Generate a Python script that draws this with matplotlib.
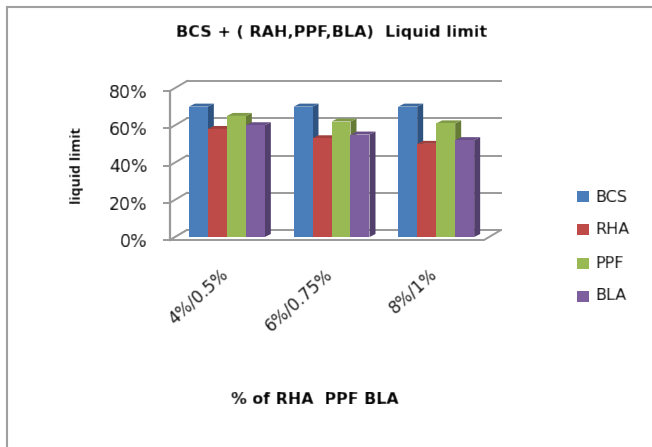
"""
BCS + (RHA, PPF, BLA) liquid limit - bar chart drawn with a fake 3D look
"""

import numpy as np
import matplotlib
matplotlib.use("Agg")
import matplotlib.pyplot as plt
from matplotlib.patches import Polygon, Rectangle
from matplotlib.lines import Line2D

# -----------------------------
# Data
# -----------------------------

categories = ["4%/0.5%", "6%/0.75%", "8%/1%"]
series_names = ["BCS", "RHA", "PPF", "BLA"]
bcs = [70, 70, 70]
rha = [58, 53, 50]
ppf = [65, 62, 61]
bla = [60, 55, 52]
y_ticks = [0, 20, 40, 60, 80]

front_colors = ["#4a7ebb", "#be4b48", "#98b954", "#7d5fa0"]
side_colors = ["#2f5380", "#7f2f2d", "#667c36", "#533f6b"]
top_colors = ["#3d6a9e", "#a03f3c", "#809b46", "#694f87"]

W, H = 652, 447
# front plane of the chart box, in pixels
LEFT, RIGHT, BASE, TOP = 170, 484, 240, 91
# floor depth in data units (17 px across, 10 px up)
DX = 17 / ((RIGHT - LEFT) / 3)
DY = 10 / ((BASE - TOP) / 80)
# bars stand a little behind the front edge
BAR_DX = 6 / ((RIGHT - LEFT) / 3)
BAR_DY = 3 / ((BASE - TOP) / 80)
BAR_W = 0.1815
GROUP_START = 0.18
GRID = "#9a9a9a"
TEXT = "#000000"


def soften(image, dpi):
    """
    Small blur for text, the reference is a scaled-up screenshot.
    """
    out = image.copy()
    for axis in (0, 1):
        out = 0.15 * np.roll(out, 1, axis) + 0.7 * out + 0.15 * np.roll(out, -1, axis)
    return out, 0, 0


def draw_bar(ax, x, value, color_idx, bottom):
    """
    One bar: front face through ax.bar, then the side and top faces.
    """
    top = bottom + value
    ax.bar(x, value, BAR_W, bottom=bottom, align="edge",
           color=front_colors[color_idx], linewidth=0, zorder=4)
    side = [(x + BAR_W, bottom), (x + BAR_W + BAR_DX, bottom + BAR_DY),
            (x + BAR_W + BAR_DX, top + BAR_DY), (x + BAR_W, top)]
    roof = [(x, top), (x + BAR_DX, top + BAR_DY),
            (x + BAR_W + BAR_DX, top + BAR_DY), (x + BAR_W, top)]
    ax.add_patch(Polygon(side, closed=True, fc=side_colors[color_idx], lw=0, zorder=3))
    ax.add_patch(Polygon(roof, closed=True, fc=top_colors[color_idx], lw=0, zorder=3))


def main():
    plt.rcParams["font.family"] = "DejaVu Sans"
    fig = plt.figure(figsize=(W / 100, H / 100), dpi=100)

    ax = fig.add_axes([LEFT / W, 1 - BASE / H, (RIGHT - LEFT) / W, (BASE - TOP) / H])
    ax.set_xlim(0, 3)
    ax.set_ylim(0, 80)
    ax.patch.set_visible(False)
    for name in ["top", "right", "bottom"]:
        ax.spines[name].set_visible(False)
    ax.spines["left"].set_color(GRID)
    ax.spines["left"].set_linewidth(1.6)

    # back wall gridlines and the slanted joins on the left wall
    for t in y_ticks:
        ax.plot([DX, 3 + DX], [t + DY, t + DY], color=GRID, lw=1.4, clip_on=False, zorder=1)
        ax.plot([0, DX], [t, t + DY], color=GRID, lw=1.4, clip_on=False, zorder=1)

    # floor outline
    floor = [(0, 0), (3, 0), (3 + DX, DY), (DX, DY)]
    ax.add_patch(Polygon(floor, closed=True, fc="white", ec=GRID, lw=1.4,
                         clip_on=False, zorder=2))

    # bars
    all_values = [bcs, rha, ppf, bla]
    for i in range(len(categories)):
        for j, values in enumerate(all_values):
            x = i + GROUP_START + j * BAR_W
            draw_bar(ax, x, values[i], j, BAR_DY)

    # axis ticks and labels
    ax.set_yticks(y_ticks)
    ax.set_yticklabels([f"{t}%" for t in y_ticks], fontsize=12.5, color=TEXT)
    ax.tick_params(axis="y", color=GRID, width=1.4, length=5, pad=11)
    ax.set_xticks([i + 0.47 for i in range(3)])
    ax.set_xticklabels(categories, rotation=42, ha="right", rotation_mode="anchor",
                       fontsize=12, color=TEXT)
    ax.tick_params(axis="x", length=0, pad=18)

    # titles
    texts = list(ax.get_xticklabels()) + list(ax.get_yticklabels())
    texts.append(fig.text(332 / W, 1 - 33 / H, "BCS + ( RAH,PPF,BLA)  Liquid limit",
                          fontsize=11.5, fontweight="bold", ha="center", va="center", color=TEXT))
    texts.append(fig.text(315 / W, 1 - 399 / H, "% of RHA  PPF BLA", fontsize=11.4,
                          fontweight="bold", ha="center", va="center", color=TEXT))
    texts.append(fig.text(77 / W, 1 - 166 / H, "liquid limit", fontsize=10.2, fontweight="bold",
                          family="Open Sans", rotation=90, ha="center", va="center", color=TEXT))

    # legend
    legend_y = [197, 230, 263, 296]
    for name, color, y in zip(series_names, front_colors, legend_y):
        fig.patches.append(Rectangle((577 / W, 1 - (y + 5.5) / H), 11.5 / W, 11 / H,
                                     transform=fig.transFigure, fc=color, lw=0))
        texts.append(fig.text(595 / W, 1 - y / H, name, fontsize=11.5, ha="left", va="center",
                              color=TEXT))

    for t in texts:
        t.set_agg_filter(soften)

    # outer frame: top and left only
    fig.add_artist(Line2D([7 / W, 7 / W], [0, 1 - 7 / H], color="#a0a0a0", lw=1.5))
    fig.add_artist(Line2D([7 / W, 1], [1 - 7 / H, 1 - 7 / H], color="#a0a0a0", lw=1.5))

    fig.savefig("out.png", dpi=100)


# Standard Python execution pattern
if __name__ == "__main__":
    main()
